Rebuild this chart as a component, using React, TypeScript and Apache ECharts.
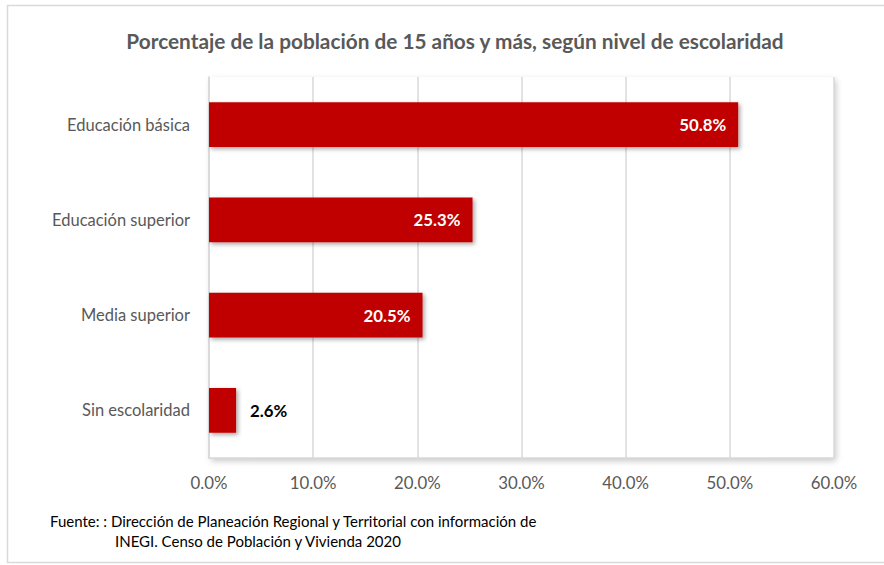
import React, { useEffect, useRef } from "react";
import * as echarts from "echarts";

const categories = ["Educación básica", "Educación superior", "Media superior", "Sin escolaridad"];
const values = [50.8, 25.3, 20.5, 2.6];
const xTicks = { min: 0, max: 60, interval: 10 };
const titleText = "Porcentaje de la población de 15 años y más, según nivel de escolaridad";
const sourceLines = [
  "Fuente: : Dirección de Planeación Regional y Territorial con información de",
  "INEGI. Censo de Población y Vivienda 2020",
];

const FONT = "Lato";

export default function App() {
  const ref = useRef<HTMLDivElement>(null);
  useEffect(() => {
    if (!ref.current) return;
    const chart = echarts.init(ref.current, undefined, { renderer: "svg" });
    chart.setOption({
      animation: false,
      backgroundColor: "#ffffff",
      textStyle: { fontFamily: FONT },
      title: {
        text: titleText,
        left: 450,
        textAlign: "center",
        top: 25,
        textStyle: { fontFamily: FONT, fontSize: 20.8, fontWeight: "bold", color: "#595959" },
      },
      grid: {
        left: 209,
        right: 50,
        top: 77,
        bottom: 107,
        show: true,
        backgroundColor: "#ffffff",
        borderWidth: 0,
        shadowColor: "rgba(0,0,0,0.22)",
        shadowBlur: 6,
        shadowOffsetX: 2,
        shadowOffsetY: 3,
      },
      xAxis: {
        type: "value",
        min: xTicks.min,
        max: xTicks.max,
        interval: xTicks.interval,
        axisLine: { show: true, lineStyle: { color: "#d9d9d9", width: 1.5 } },
        axisTick: { show: false },
        splitLine: { show: true, lineStyle: { color: "#d9d9d9", width: 1.5 } },
        axisLabel: {
          formatter: (v: number) => v.toFixed(1) + "%",
          color: "#595959",
          fontFamily: FONT,
          fontSize: 16.8,
          margin: 16,
        },
      },
      yAxis: {
        type: "category",
        data: categories,
        inverse: true,
        axisLine: { show: true, lineStyle: { color: "#d9d9d9", width: 1.5 } },
        axisTick: { show: false },
        axisLabel: { color: "#595959", fontFamily: FONT, fontSize: 16.5, margin: 19 },
      },
      series: [
        {
          type: "bar",
          data: values.map((v, i) => ({
            value: v,
            label:
              i === values.length - 1
                ? { position: "right", color: "#000000", distance: 14 }
                : { position: "insideRight", color: "#ffffff", distance: 12 },
          })),
          barWidth: "47%",
          itemStyle: {
            color: "#c00000",
            shadowColor: "rgba(0,0,0,0.35)",
            shadowBlur: 4,
            shadowOffsetX: 2,
            shadowOffsetY: 2,
          },
          label: {
            show: true,
            fontFamily: FONT,
            fontWeight: "bold",
            fontSize: 16.8,
            formatter: (p: any) => p.value.toFixed(1) + "%",
          },
        },
      ],
      graphic: [
        {
          type: "rect",
          shape: { x: 7.5, y: 5.5, width: 884, height: 557 },
          style: { fill: "none", stroke: "#d9d9d9", lineWidth: 1.5 },
          silent: true,
          z: -10,
        },
        {
          type: "text",
          x: 50,
          y: 521,
          style: { text: sourceLines[0], fontFamily: FONT, fontSize: 15, fill: "#000000", textVerticalAlign: "middle" },
        },
        {
          type: "text",
          x: 115,
          y: 541,
          style: { text: sourceLines[1], fontFamily: FONT, fontSize: 15, fill: "#000000", textVerticalAlign: "middle" },
        },
      ],
    });
    return () => chart.dispose();
  }, []);
  return (
    <div
      ref={ref}
      style={{ position: "fixed", left: 0, top: 0, width: 884, height: 565 }}
    />
  );
}
